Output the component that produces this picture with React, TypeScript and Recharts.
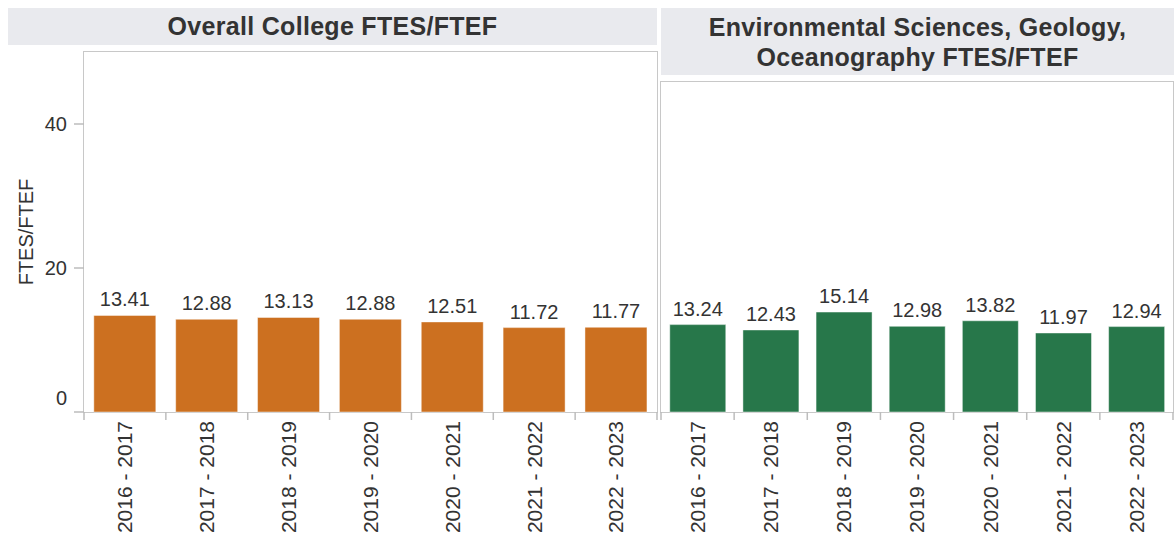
import React from 'react';
import { BarChart, Bar, XAxis, YAxis, LabelList } from 'recharts';

const years = ['2016 - 2017', '2017 - 2018', '2018 - 2019', '2019 - 2020', '2020 - 2021', '2021 - 2022', '2022 - 2023'];
const collegeValues = [13.41, 12.88, 13.13, 12.88, 12.51, 11.72, 11.77];
const deptValues = [13.24, 12.43, 15.14, 12.98, 13.82, 11.97, 12.94];
const yTicks = [0, 20, 40];
const yDomain: [number, number] = [0, 50];
const leftTitle = 'Overall College FTES/FTEF';
const rightTitleLines = ['Environmental Sciences, Geology,', 'Oceanography FTES/FTEF'];
const yAxisTitle = 'FTES/FTEF';

const FONT = '"Liberation Sans", Arial, sans-serif';
const TEXT = '#333333';
const GRID = '#c8c8c8';
const TICK = '#bdbdbd';
const HEADER_BG = '#e9eaee';
const ORANGE = '#cc7020';
const GREEN = '#27774a';

const collegeData = years.map((year, i) => ({ year, value: collegeValues[i] }));
const deptData = years.map((year, i) => ({ year, value: deptValues[i] }));

const makeXTick = (band: number, count: number) => (props: any) => {
  const { x, y, payload, index } = props;
  const l = x - band / 2;
  const r = x + band / 2;
  return (
    <g>
      <line x1={l} x2={l} y1={y - 9} y2={y - 1} stroke={TICK} strokeWidth={1.5} />
      {index === count - 1 && <line x1={r} x2={r} y1={y - 9} y2={y - 1} stroke={TICK} strokeWidth={1.5} />}
      <text
        transform={`translate(${x},${y}) rotate(-90)`}
        textAnchor="end"
        dy="0.35em"
        fontSize={21}
        fill={TEXT}
        fontFamily={FONT}
      >
        {payload.value}
      </text>
    </g>
  );
};

const YTick = (props: any) => {
  const { x, y, payload } = props;
  const shift = payload.value === 0 ? -14 : 0;
  return (
    <text x={x} y={y + shift} dy="0.35em" textAnchor="end" fontSize={20} fill={TEXT} fontFamily={FONT}>
      {payload.value}
    </text>
  );
};

const fmt = (v: any) => Number(v).toFixed(2);

export default function App() {
  const leftPlot = { x: 84, y: 52, w: 573, h: 360 };
  const rightPlot = { x: 661, y: 82, w: 512, h: 330 };
  return (
    <div style={{ position: 'fixed', left: 0, top: 0, width: 1175, height: 542, background: '#fff', fontFamily: FONT }}>
      {/* headers */}
      <div
        style={{
          position: 'absolute', left: 8, top: 8, width: 649, height: 37, background: HEADER_BG,
          display: 'flex', alignItems: 'center', justifyContent: 'center',
          fontWeight: 'bold', fontSize: 25, letterSpacing: 0.3, color: TEXT,
        }}
      >
        {leftTitle}
      </div>
      <div
        style={{
          position: 'absolute', left: 661, top: 8, width: 513, height: 67, background: HEADER_BG,
          display: 'flex', flexDirection: 'column', alignItems: 'center', justifyContent: 'center',
          fontWeight: 'bold', fontSize: 25, letterSpacing: 0.3, color: TEXT, lineHeight: '30px',
        }}
      >
        {rightTitleLines.map((t) => (
          <div key={t}>{t}</div>
        ))}
      </div>
      {/* plot boxes */}
      <div
        style={{
          position: 'absolute', left: leftPlot.x - 1, top: leftPlot.y - 1, width: leftPlot.w + 2, height: leftPlot.h + 2,
          border: `1.5px solid ${GRID}`, boxSizing: 'border-box',
        }}
      />
      <div
        style={{
          position: 'absolute', left: rightPlot.x - 1, top: rightPlot.y - 1, width: rightPlot.w + 2, height: rightPlot.h + 2,
          border: `1.5px solid ${GRID}`, boxSizing: 'border-box',
        }}
      />
      {/* y axis title */}
      <div
        style={{
          position: 'absolute', left: 26, top: 232, transform: 'translate(-50%, -50%) rotate(-90deg)',
          whiteSpace: 'nowrap', fontSize: 20, color: TEXT,
        }}
      >
        {yAxisTitle}
      </div>
      {/* left chart */}
      <div style={{ position: 'absolute', left: 0, top: 0 }}>
        <BarChart
          width={660}
          height={542}
          data={collegeData}
          margin={{ top: leftPlot.y, right: 660 - (leftPlot.x + leftPlot.w), bottom: 10, left: leftPlot.x - 60 }}
          barCategoryGap="12%"
        >
          <XAxis
            dataKey="year"
            height={120}
            axisLine={false}
            tickLine={false}
            tickSize={8}
            tickMargin={1}
            interval={0}
            tick={makeXTick(leftPlot.w / years.length, years.length)}
          />
          <YAxis
            width={60}
            domain={yDomain}
            ticks={yTicks}
            axisLine={false}
            tickLine={{ stroke: TICK, strokeWidth: 1.5 }}
            tickSize={10}
            tickMargin={7}
            tick={<YTick />}
            interval={0}
          />
          <Bar dataKey="value" fill={ORANGE} stroke="rgba(255,255,255,0.45)" strokeWidth={1} isAnimationActive={false}>
            <LabelList dataKey="value" position="top" offset={9} formatter={fmt} fill={TEXT} fontSize={20} fontFamily={FONT} />
          </Bar>
        </BarChart>
      </div>
      {/* right chart */}
      <div style={{ position: 'absolute', left: 660, top: 0 }}>
        <BarChart
          width={515}
          height={542}
          data={deptData}
          margin={{ top: rightPlot.y, right: 515 - (rightPlot.x - 660 + rightPlot.w), bottom: 10, left: rightPlot.x - 660 }}
          barCategoryGap="12%"
        >
          <XAxis
            dataKey="year"
            height={120}
            axisLine={false}
            tickLine={false}
            tickSize={8}
            tickMargin={1}
            interval={0}
            tick={makeXTick(rightPlot.w / years.length, years.length)}
          />
          <YAxis hide width={0} domain={yDomain} ticks={yTicks} />
          <Bar dataKey="value" fill={GREEN} stroke="rgba(255,255,255,0.45)" strokeWidth={1} isAnimationActive={false}>
            <LabelList dataKey="value" position="top" offset={9} formatter={fmt} fill={TEXT} fontSize={20} fontFamily={FONT} />
          </Bar>
        </BarChart>
      </div>
    </div>
  );
}
